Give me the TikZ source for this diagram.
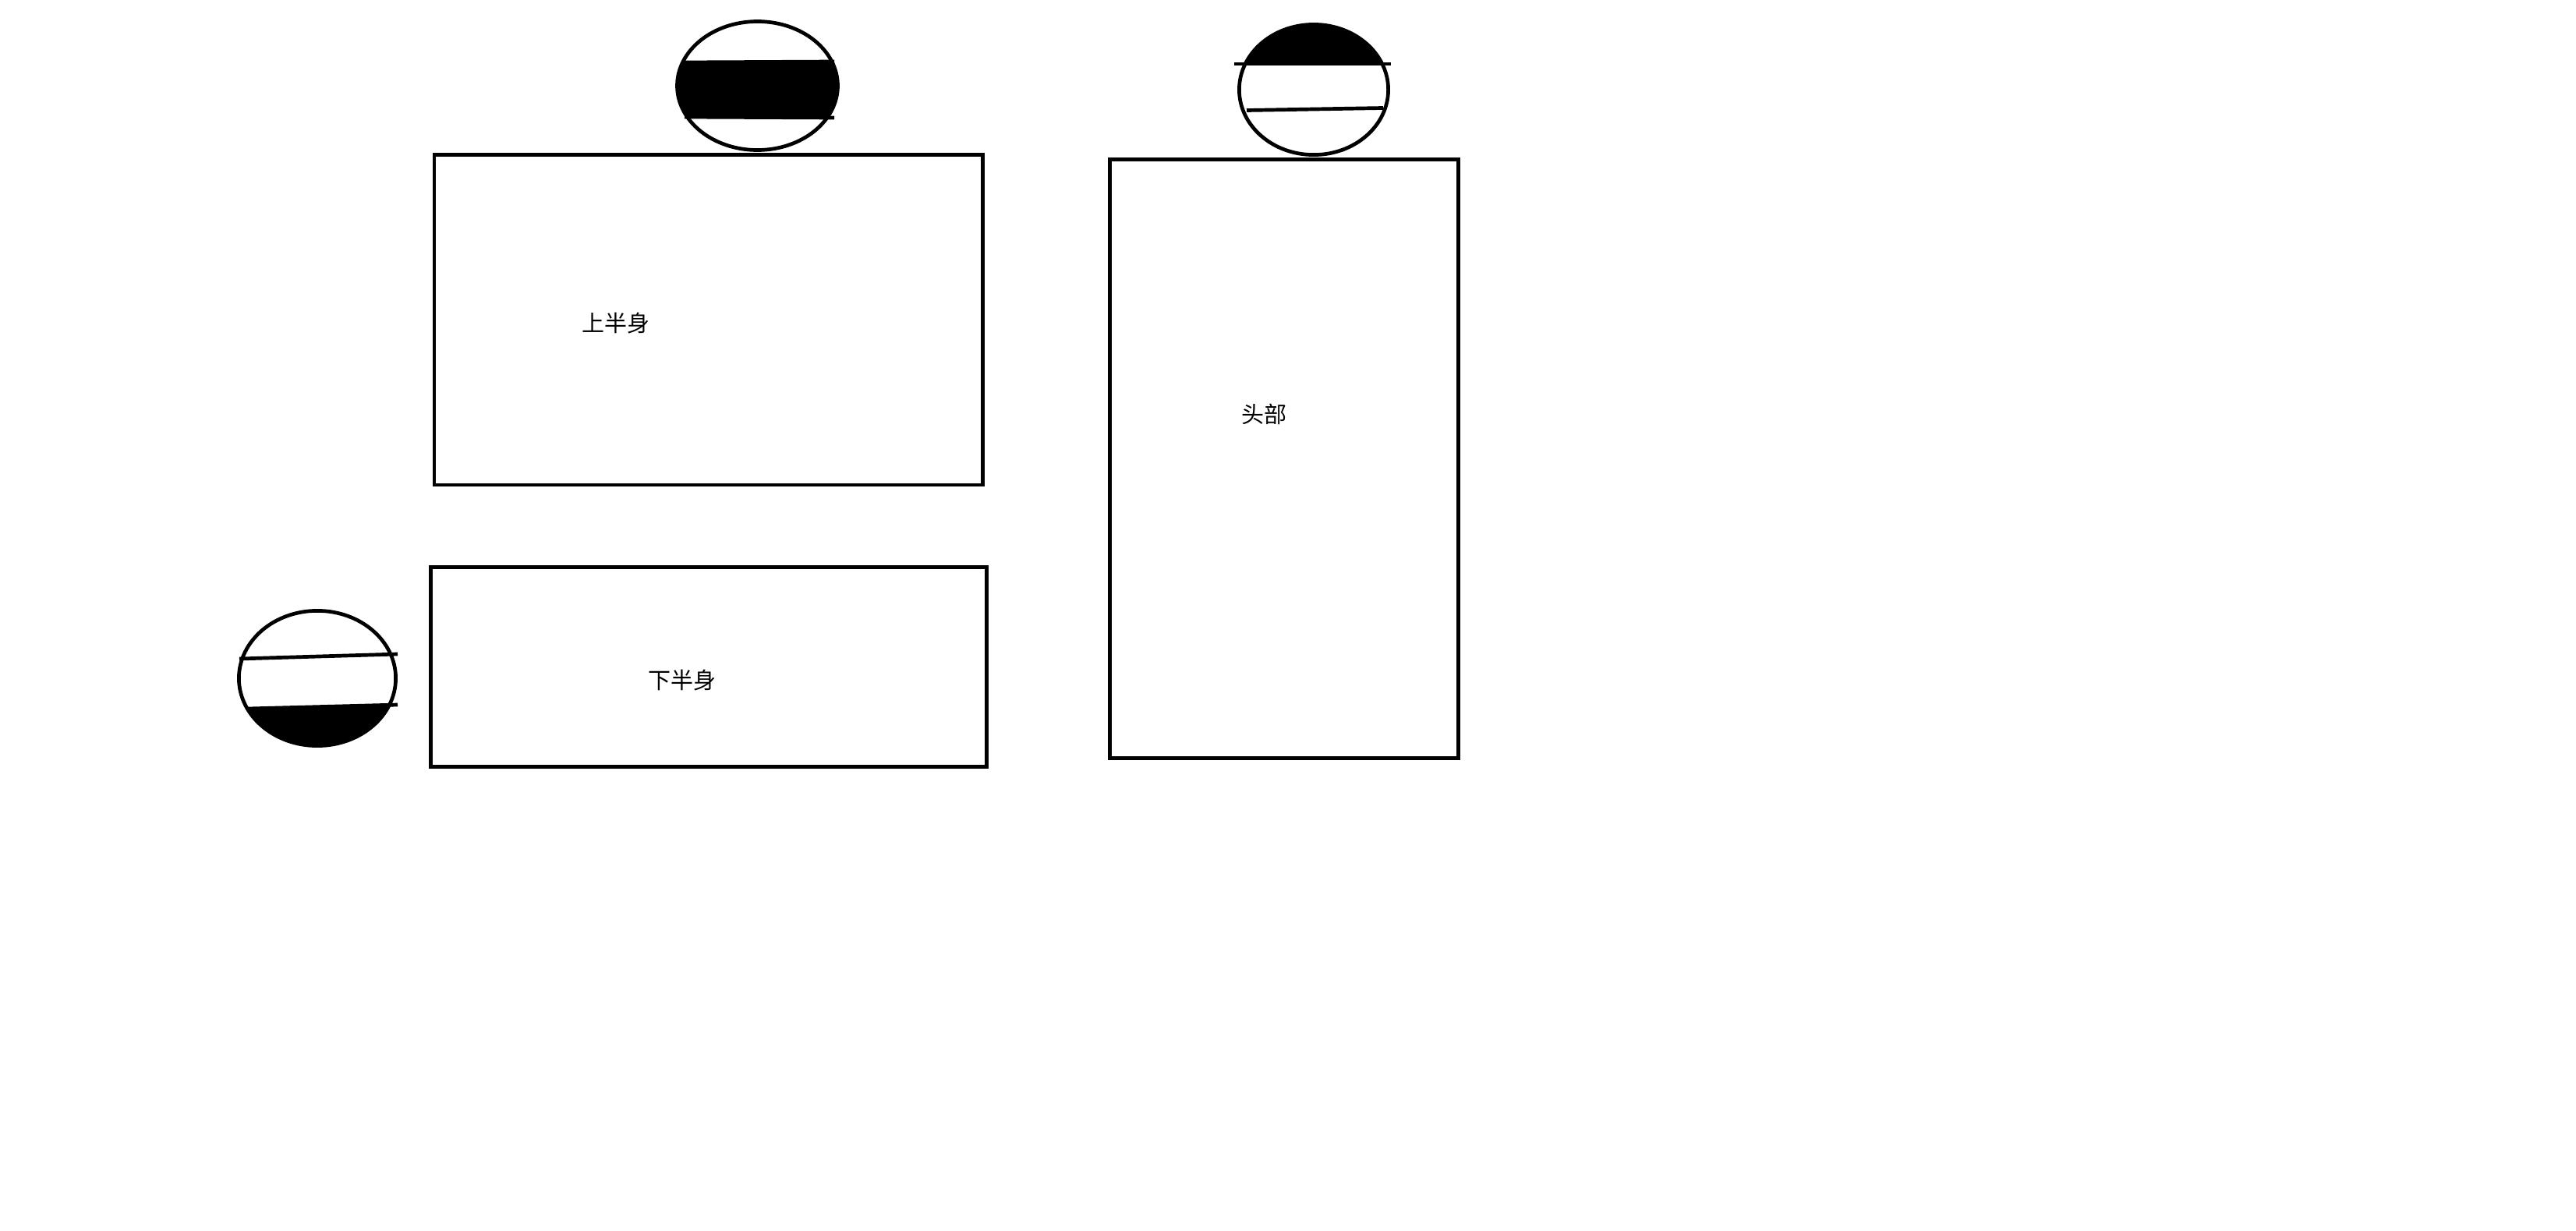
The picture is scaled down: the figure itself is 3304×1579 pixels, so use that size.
\documentclass[tikz,border=0pt]{standalone}
\usepackage{fontspec}
\newfontfamily\cjk{Noto Sans CJK SC}
\begin{document}
\begin{tikzpicture}[x=1pt,y=-1pt,
  stroke/.style={line width=4.7pt},
  box/.style={stroke,draw=black,rectangle,inner sep=0pt},
  lbl/.style={inner sep=0pt,font=\cjk\fontsize{29}{35}\selectfont,text=black}]
\useasboundingbox (0,0) rectangle (3304,1579);
\fill[white] (0,0) rectangle (3304,1579);

% rectangles
\node[box,minimum width=703.5pt,minimum height=423.5pt] (upper) at (908.75,410.25) {};
\node[box,minimum width=713pt,minimum height=256pt] (lower) at (909,855.5) {};
\node[box,minimum width=447pt,minimum height=768pt] (head) at (1647,588.5) {};

% labels
\node[lbl] (tupper) at (790,415) {上半身};
\node[lbl] (tlower) at (875,872.5) {下半身};
\node[lbl] (thead) at (1621.5,531) {头部};

% ellipse 1 (black band)
\coordinate (e1) at (971.5,110);
\begin{scope}
  \clip (e1) ellipse [x radius=103pt, y radius=82.5pt];
  \fill[black] (850,79) rectangle (1090,151);
\end{scope}
\draw[stroke] (e1) ellipse [x radius=103pt, y radius=82.5pt];
\draw[stroke] (878,80) -- (1070,79);
\draw[stroke] (878,150) -- (1070,151);

% ellipse 2 (black cap on top)
\coordinate (e2) at (1685,115);
\begin{scope}
  \clip (e2) ellipse [x radius=95.6pt, y radius=83.6pt];
  \fill[black] (1570,0) rectangle (1800,82);
\end{scope}
\draw[stroke] (e2) ellipse [x radius=95.6pt, y radius=83.6pt];
\draw[stroke] (1583,82) -- (1784,82);
\draw[stroke] (1599,141.5) -- (1774,138.5);

% ellipse 3 (black bottom)
\coordinate (e3) at (407,870);
\begin{scope}
  \clip (e3) ellipse [x radius=100.6pt, y radius=86.6pt];
  \fill[black] (290,909.7) -- (520,903.7) -- (520,980) -- (290,980) -- cycle;
\end{scope}
\draw[stroke] (e3) ellipse [x radius=100.6pt, y radius=86.6pt];
\draw[stroke] (307,845) -- (510,839);
\draw[stroke] (318,909) -- (510,904);
\end{tikzpicture}
\end{document}
